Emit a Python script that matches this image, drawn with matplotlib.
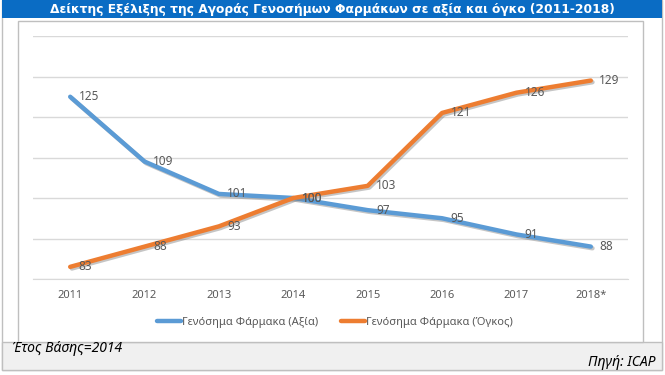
import matplotlib.pyplot as plt
import matplotlib.patheffects as pe
from matplotlib.patches import Rectangle

years = ['2011', '2012', '2013', '2014', '2015', '2016', '2017', '2018*']
value_idx = [125, 109, 101, 100, 97, 95, 91, 88]
volume_idx = [83, 88, 93, 100, 103, 121, 126, 129]

title = 'Δείκτης Εξέλιξης της Αγοράς Γενοσήμων Φαρμάκων σε αξία και όγκο (2011-2018)'
label_value = 'Γενόσημα Φάρμακα (Αξία)'
label_volume = 'Γενόσημα Φάρμακα (Όγκος)'
note_left = 'Έτος Βάσης=2014'
note_right = 'Πηγή: ICAP'

blue = '#5B9BD5'
orange = '#ED7D31'
grey_txt = '#595959'

W, H = 665, 375
fig = plt.figure(figsize=(6.65, 3.75), dpi=100)
fig.patch.set_facecolor('white')


def box(x0, y0, x1, y1, **kw):
    # rectangle in pixel coords (top-left origin)
    r = Rectangle((x0 / W, 1 - y1 / H), (x1 - x0) / W, (y1 - y0) / H,
                  transform=fig.transFigure, zorder=-10, **kw)
    fig.patches.append(r)


# outer frame, bottom note strip, title bar, chart box
box(2, 0, 662, 370, facecolor='white', edgecolor='#BFBFBF', lw=1)
box(2, 342, 662, 370, facecolor='#F0F0F0', edgecolor='#BFBFBF', lw=1)
box(2, 0, 662, 18, facecolor='#0A6CC4', edgecolor='none')
box(18, 21, 643, 342, facecolor='white', edgecolor='#BFBFBF', lw=1)

fig.text(332 / W, 1 - 10 / H, title, color='white', fontsize=8.8,
         fontweight='bold', ha='center', va='center', family='DejaVu Sans')
fig.text(12 / W, 1 - 349 / H, note_left, fontsize=10, style='italic',
         ha='left', va='center', family='Noto Sans', color='black')
fig.text(655 / W, 1 - 362 / H, note_right, fontsize=10, style='italic',
         ha='right', va='center', family='Noto Sans', color='black')

ax = fig.add_axes([33 / W, 1 - 279 / H, (628 - 33) / W, (279 - 36) / H])
ax.set_facecolor('none')
x = list(range(len(years)))
shadow = [pe.SimpleLineShadow(offset=(1.2, -1.2), shadow_color='#808080', alpha=0.45),
          pe.Normal()]
ax.plot(x, value_idx, color=blue, lw=3.2, solid_capstyle='round',
        label=label_value, path_effects=shadow, zorder=3)
ax.plot(x, volume_idx, color=orange, lw=3.2, solid_capstyle='round',
        label=label_volume, path_effects=shadow, zorder=3)

for xi, v in zip(x, value_idx):
    ax.annotate(str(v), (xi, v), xytext=(6, 0), textcoords='offset points',
                ha='left', va='center', fontsize=8.5, color=grey_txt, family='Noto Sans')
for xi, v in zip(x, volume_idx):
    ax.annotate(str(v), (xi, v), xytext=(6, 0), textcoords='offset points',
                ha='left', va='center', fontsize=8.5, color=grey_txt, family='Noto Sans')

ax.set_xlim(-0.5, len(years) - 0.5)
ax.set_ylim(80, 140)
ax.set_yticks(range(80, 141, 10))
ax.set_yticklabels([])
ax.tick_params(axis='y', length=0)
ax.set_xticks(x)
ax.set_xticklabels(years, fontsize=8, color=grey_txt, family='Noto Sans')
ax.tick_params(axis='x', length=0, pad=8)
ax.grid(axis='y', color='#D9D9D9', lw=1)
ax.set_axisbelow(True)
for s in ['top', 'right', 'left']:
    ax.spines[s].set_visible(False)
ax.spines['bottom'].set_color('#D9D9D9')

leg = fig.legend(loc='center', bbox_to_anchor=(335 / W, 1 - 322 / H), ncol=2,
                 frameon=False, handlelength=2.2, handletextpad=0.1,
                 columnspacing=2.0, prop={'family': 'Noto Sans', 'size': 8})
for t in leg.get_texts():
    t.set_color(grey_txt)
for h in leg.get_lines():
    h.set_path_effects([])

fig.savefig('out.png', dpi=100)
